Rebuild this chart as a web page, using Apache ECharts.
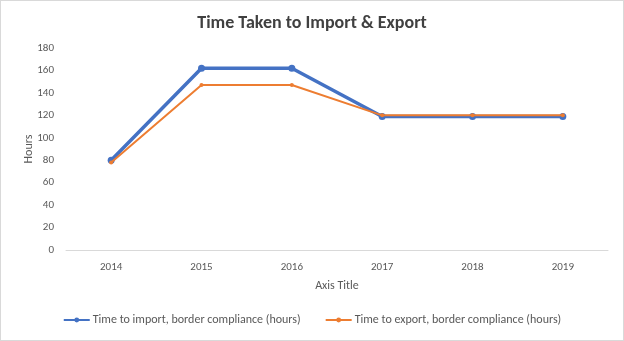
<!DOCTYPE html>
<html>
<head>
<meta charset="utf-8">
<script src="https://cdn.jsdelivr.net/npm/echarts@6/dist/echarts.min.js"></script>
<style>
  html, body { margin: 0; padding: 0; background: #fff; }
  #chart { width: 622px; height: 339px; border: 1px solid #d9d9d9; }
</style>
</head>
<body>
<div id="chart"></div>
<script>
// Years on the category axis
const years = ['2014', '2015', '2016', '2017', '2018', '2019'];
// Border compliance times, in hours
const importHours = [80, 162, 162, 119, 119, 119];
const exportHours = [78, 147, 147, 120, 120, 120];
const importName = 'Time to import, border compliance (hours)';
const exportName = 'Time to export, border compliance (hours)';

const chart = echarts.init(document.getElementById('chart'));
const font = 'Calibri, Carlito, "Liberation Sans", Arial, sans-serif';
chart.setOption({
  animation: false,
  title: {
    text: 'Time Taken to Import & Export',
    left: 'center',
    top: 8,
    textStyle: { fontFamily: font, fontSize: 18, fontWeight: 'bold', color: '#404040' }
  },
  legend: {
    bottom: 9,
    left: 'center',
    itemGap: 24,
    itemWidth: 26,
    itemHeight: 6,
    textStyle: { fontFamily: font, fontSize: 12, color: '#595959', padding: [0, 0, 0, -2] },
    data: [importName, exportName]
  },
  grid: { left: 65, right: 15, top: 47, bottom: 90 },
  xAxis: {
    type: 'category',
    data: years,
    boundaryGap: true,
    name: 'Axis Title',
    nameLocation: 'middle',
    nameGap: 30,
    nameMoveOverlap: false,
    nameTextStyle: { fontFamily: font, fontSize: 12, color: '#595959' },
    axisLine: { lineStyle: { color: '#d9d9d9' } },
    axisTick: { show: false },
    axisLabel: { fontFamily: font, fontSize: 11, color: '#595959', margin: 12 }
  },
  yAxis: {
    type: 'value',
    min: 0,
    max: 180,
    interval: 20,
    name: 'Hours',
    nameLocation: 'middle',
    nameGap: 31,
    nameMoveOverlap: false,
    nameTextStyle: { fontFamily: font, fontSize: 12, color: '#595959' },
    axisLine: { show: false },
    axisTick: { show: false },
    splitLine: { show: false },
    axisLabel: { fontFamily: font, fontSize: 11, color: '#595959', margin: 12 }
  },
  series: [
    {
      name: importName,
      type: 'line',
      data: importHours,
      symbol: 'circle',
      symbolSize: 7,
      color: '#4472c4',
      lineStyle: { width: 3.5, color: '#4472c4' },
      itemStyle: { color: '#4472c4' },
      z: 2
    },
    {
      name: exportName,
      type: 'line',
      data: exportHours,
      symbol: 'circle',
      symbolSize: 4,
      color: '#ed7d31',
      lineStyle: { width: 2, color: '#ed7d31' },
      itemStyle: { color: '#ed7d31' },
      z: 3
    }
  ]
});
</script>
</body>
</html>
